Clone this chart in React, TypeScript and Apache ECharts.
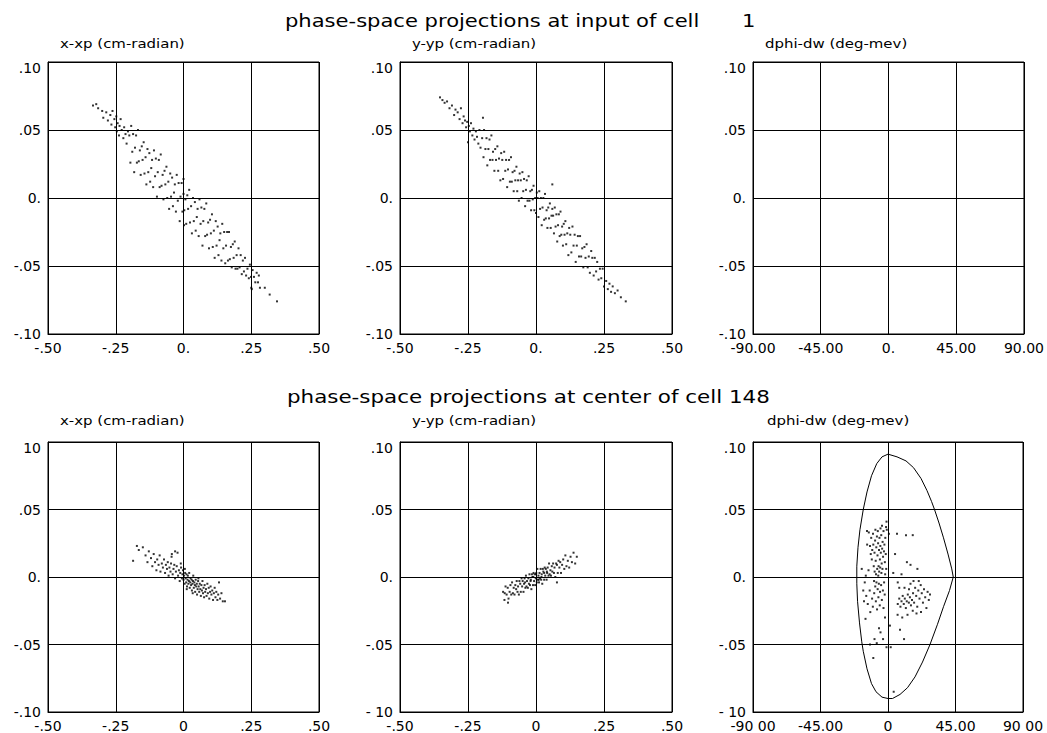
import React, { useEffect, useRef } from 'react';
import * as echarts from 'echarts';

const FONT = '"DejaVu Sans", sans-serif';

// ---- titles ----
const titleTop = 'phase-space projections at input of cell';
const titleTopCell = '1';
const titleBottom = 'phase-space projections at center of cell 148';
const subTitles = ['x-xp (cm-radian)', 'y-yp (cm-radian)', 'dphi-dw (deg-mev)'];

// ---- tick labels ----
const xTicksTop = ['-.50', '-.25', '0.', '.25', '.50'];
const xTicksBottom = ['-.50', '-.25', '0', '.25', '.50'];
const phiTicksTop = ['-90.00', '-45.00', '0.', '45.00', '90.00'];
const phiTicksBottom = ['-90 00', '-45.00', '0', '45.00', '90 00'];
const yTicksA = ['-.10', '-.05', '0.', '.05', '.10'];
const yTicksB = ['-.10', '-.05', '0.', '.05', '10'];
const yTicksC = ['- 10', '-.05', '0.', '.05', '.10'];

// ---- data: input of cell 1 ----
const xxpInput = [
  [-0.334, 0.068], [-0.322, 0.069], [-0.315, 0.066], [-0.30, 0.064], [-0.296, 0.059], [-0.285, 0.063], [-0.279, 0.057], [-0.270, 0.061], [-0.266, 0.054], [-0.262, 0.064], [-0.255, 0.058], [-0.252, 0.052], [-0.248, 0.060], [-0.246, 0.049], [-0.243, 0.055], [-0.238, 0.046], [-0.236, 0.053], [-0.232, 0.058], [-0.228, 0.050], [-0.222, 0.044], [-0.219, 0.052], [-0.214, 0.047], [-0.210, 0.040], [-0.205, 0.049],
  [-0.200, 0.046], [-0.196, 0.026], [-0.193, 0.053], [-0.189, 0.034], [-0.186, 0.047], [-0.182, 0.019], [-0.179, 0.037], [-0.175, 0.046], [-0.172, 0.026], [-0.168, 0.050], [-0.165, 0.027], [-0.161, 0.035], [-0.158, 0.017], [-0.154, 0.038], [-0.151, 0.028], [-0.147, 0.041], [-0.144, 0.018], [-0.140, 0.030], [-0.137, 0.010], [-0.133, 0.036], [-0.130, 0.019], [-0.126, 0.033], [-0.123, 0.012], [-0.119, 0.022], [-0.116, 0.028], [-0.112, 0.008], [-0.109, 0.035], [-0.105, 0.016], [-0.102, 0.029], [-0.098, 0.001],
  [-0.095, 0.019], [-0.091, 0.028], [-0.088, 0.008], [-0.084, 0.032], [-0.081, 0.009], [-0.077, 0.017], [-0.074, -0.001], [-0.070, 0.020], [-0.067, 0.010], [-0.063, 0.023], [-0.060, 0.000], [-0.056, 0.012], [-0.053, -0.008], [-0.049, 0.018], [-0.046, 0.001], [-0.042, 0.015], [-0.039, -0.006], [-0.035, 0.004], [-0.032, 0.010], [-0.028, -0.010], [-0.025, 0.017], [-0.021, -0.002], [-0.018, 0.011], [-0.014, -0.017], [-0.011, 0.001], [-0.007, 0.011], [-0.004, -0.010], [0.000, 0.014], [0.000, 0.003], [0.002, -0.020],
  [0.003, -0.009], [0.007, -0.001], [0.010, -0.019], [0.014, 0.002], [0.017, -0.008], [0.021, 0.006], [0.024, -0.018], [0.028, -0.006], [0.031, -0.026], [0.035, 0.000], [0.038, -0.017], [0.042, -0.003], [0.045, -0.024], [0.049, -0.014], [0.052, -0.008], [0.056, -0.028], [0.059, -0.001], [0.063, -0.019], [0.066, -0.007], [0.070, -0.035], [0.073, -0.017], [0.077, -0.008], [0.080, -0.028], [0.084, -0.004], [0.087, -0.027], [0.091, -0.018], [0.094, -0.037], [0.098, -0.016], [0.101, -0.026], [0.105, -0.012], [0.108, -0.036], [0.112, -0.024], [0.115, -0.044], [0.119, -0.017],
  [0.122, -0.035], [0.126, -0.021], [0.129, -0.042], [0.133, -0.031], [0.136, -0.026], [0.140, -0.046], [0.143, -0.019], [0.147, -0.037], [0.150, -0.025], [0.154, -0.048], [0.157, -0.035], [0.161, -0.025], [0.164, -0.046], [0.168, -0.025], [0.171, -0.045], [0.175, -0.036], [0.178, -0.051], [0.182, -0.034], [0.185, -0.044], [0.189, -0.032], [0.192, -0.052], [0.196, -0.042], [0.199, -0.052], [0.203, -0.037], [0.207, -0.051], [0.211, -0.042], [0.215, -0.056], [0.219, -0.046], [0.223, -0.054], [0.227, -0.044], [0.231, -0.057], [0.236, -0.052], [0.241, -0.059], [0.245, -0.049], [0.249, -0.058],
  [0.250, -0.066], [0.252, -0.067], [0.255, -0.053], [0.260, -0.058], [0.265, -0.062], [0.270, -0.055], [0.275, -0.062], [0.278, -0.057], [0.282, -0.066], [0.300, -0.066], [0.318, -0.071], [0.345, -0.076],
];

const yypInput = [
  [-0.353, 0.074], [-0.344, 0.072], [-0.336, 0.070], [-0.327, 0.071], [-0.318, 0.066], [-0.309, 0.068], [-0.301, 0.061], [-0.296, 0.065], [-0.288, 0.063], [-0.281, 0.058], [-0.276, 0.066], [-0.270, 0.055], [-0.266, 0.060], [-0.261, 0.057], [-0.257, 0.052], [-0.253, 0.056], [-0.250, 0.041], [-0.247, 0.053], [-0.243, 0.049], [-0.239, 0.055], [-0.234, 0.046], [-0.230, 0.051], [-0.226, 0.043], [-0.221, 0.049], [-0.217, 0.045], [-0.212, 0.040], [-0.208, 0.050], [-0.204, 0.037], [-0.195, 0.059],
  [-0.198, 0.044], [-0.193, 0.030], [-0.191, 0.050], [-0.186, 0.036], [-0.182, 0.044], [-0.179, 0.024], [-0.175, 0.036], [-0.171, 0.043], [-0.169, 0.028], [-0.164, 0.046], [-0.160, 0.028], [-0.158, 0.034], [-0.153, 0.020], [-0.150, 0.036], [-0.147, 0.028], [-0.142, 0.038], [-0.139, 0.020], [-0.136, 0.029], [-0.131, 0.013], [-0.128, 0.033], [-0.124, 0.028], [-0.121, 0.014], [-0.117, 0.034], [-0.113, 0.020], [-0.110, 0.028], [-0.106, 0.008], [-0.103, 0.021], [-0.099, 0.028], [-0.096, 0.012], [-0.092, 0.030],
  [-0.089, 0.012], [-0.086, 0.019], [-0.082, 0.005], [-0.079, 0.020], [-0.076, 0.013], [-0.072, 0.023], [-0.069, 0.005], [-0.066, 0.013], [-0.063, -0.002], [-0.060, 0.018], [-0.056, 0.013], [-0.053, 0.000], [-0.050, 0.019], [-0.047, 0.005], [-0.044, 0.014], [-0.040, -0.006], [-0.037, 0.006], [-0.034, 0.013], [-0.031, -0.002], [-0.027, 0.016], [-0.024, -0.002], [-0.021, 0.005], [-0.018, -0.009], [-0.015, 0.006], [-0.012, -0.001], [-0.009, 0.009], [-0.006, -0.009], [-0.003, 0.000], [0.000, -0.011], [0.003, 0.004],
  [0.006, 0.000], [0.009, -0.014], [0.012, 0.005], [0.015, -0.008], [0.018, 0.000], [0.021, -0.020], [0.024, -0.007], [0.027, 0.000], [0.030, -0.016], [0.033, 0.003], [0.036, -0.015], [0.039, -0.009], [0.042, -0.022], [0.045, -0.007], [0.048, -0.015], [0.051, -0.004], [0.054, -0.022], [0.057, -0.013], [0.060, 0.010], [0.060, -0.008], [0.063, -0.013], [0.066, -0.026], [0.069, -0.007], [0.072, -0.021], [0.075, -0.012], [0.078, -0.032], [0.081, -0.020], [0.084, -0.012], [0.087, -0.028], [0.090, -0.010], [0.093, -0.027], [0.096, -0.021], [0.099, -0.035], [0.102, -0.019], [0.105, -0.027], [0.108, -0.017], [0.111, -0.034], [0.115, -0.026], [0.119, -0.042],
  [0.122, -0.022], [0.126, -0.027], [0.130, -0.040], [0.134, -0.021], [0.138, -0.035], [0.142, -0.027], [0.146, -0.047], [0.150, -0.035], [0.154, -0.028], [0.158, -0.043], [0.162, -0.028], [0.166, -0.043], [0.170, -0.037], [0.174, -0.051], [0.178, -0.036], [0.182, -0.044], [0.186, -0.034], [0.190, -0.051], [0.194, -0.043], [0.198, -0.055], [0.203, -0.039], [0.207, -0.044], [0.212, -0.057], [0.216, -0.044], [0.221, -0.054], [0.225, -0.047], [0.230, -0.060], [0.235, -0.052], [0.240, -0.059], [0.245, -0.052], [0.250, -0.065],
  [0.258, -0.061], [0.264, -0.067], [0.270, -0.063], [0.276, -0.069], [0.282, -0.065], [0.290, -0.070], [0.300, -0.068], [0.312, -0.073], [0.330, -0.076],
];

const phiInput: number[][] = [];

// ---- data: center of cell 148 ----
const xxpCenter = [
  [-0.186, 0.012], [-0.172, 0.023], [-0.165, 0.020], [-0.150, 0.022], [-0.140, 0.016], [-0.133, 0.011], [-0.128, 0.019], [-0.120, 0.014], [-0.115, 0.008], [-0.110, 0.017], [-0.105, 0.011], [-0.100, 0.005], [-0.097, 0.013], [-0.092, 0.009], [-0.088, 0.016], [-0.085, 0.004], [-0.080, 0.010], [-0.076, 0.007], [-0.072, 0.013], [-0.068, 0.003], [-0.065, 0.009], [-0.061, 0.006], [-0.058, 0.011], [-0.055, 0.001], [-0.052, 0.007], [-0.048, 0.004], [-0.046, 0.010], [-0.043, 0.017], [-0.040, 0.002], [-0.037, 0.006], [-0.034, 0.009], [-0.031, -0.001], [-0.028, 0.004], [-0.025, 0.008], [-0.022, 0.018], [-0.020, 0.001], [-0.017, 0.005], [-0.014, -0.003], [-0.012, 0.003], [-0.009, 0.007], [-0.006, -0.001], [-0.004, 0.002], [-0.002, 0.005],
  [0.000, -0.002], [0.002, 0.001], [0.004, -0.005], [0.006, 0.003], [0.008, -0.001], [0.010, -0.004], [0.011, 0.002], [0.013, -0.007], [0.015, -0.002], [0.016, 0.001], [0.018, -0.005], [0.020, -0.003], [0.021, 0.003], [0.023, -0.008], [0.025, -0.004], [0.026, -0.001], [0.028, -0.006], [0.030, -0.002], [0.031, -0.010], [0.033, -0.005], [0.035, -0.003], [0.036, 0.001], [0.038, -0.008], [0.040, -0.004], [0.042, -0.006], [0.043, -0.011], [0.045, -0.002], [0.047, -0.007], [0.049, -0.005], [0.050, -0.013], [0.052, -0.009], [0.054, -0.003], [0.056, -0.007], [0.058, -0.011], [0.060, -0.005], [0.062, -0.009], [0.064, -0.014], [0.066, -0.006], [0.068, -0.010], [0.070, -0.003], [0.072, -0.012], [0.074, -0.008], [0.076, -0.015], [0.078, -0.006], [0.080, -0.011], [0.083, -0.009], [0.085, -0.014], [0.088, -0.005], [0.090, -0.012], [0.093, -0.008], [0.095, -0.016], [0.098, -0.011], [0.100, -0.007], [0.103, -0.013], [0.106, -0.010], [0.109, -0.017], [0.112, -0.012], [0.115, -0.008], [0.118, -0.015], [0.121, -0.011], [0.125, -0.017], [0.128, -0.013], [0.131, -0.004], [0.135, -0.016], [0.140, -0.012], [0.145, -0.018], [0.153, -0.018],
  [-0.031, 0.019], [-0.044, 0.015], [-0.010, 0.010], [0.005, 0.006], [0.012, -0.009], [0.034, -0.012], [0.055, -0.001],
];

const yypCenter = [
  [-0.121, -0.011], [-0.116, -0.017], [-0.112, -0.007], [-0.108, -0.013], [-0.104, -0.008], [-0.101, -0.016], [-0.097, -0.011], [-0.094, -0.006], [-0.091, -0.013], [-0.088, -0.004], [-0.085, -0.012], [-0.082, -0.008], [-0.079, -0.013], [-0.076, -0.006], [-0.073, -0.009], [-0.071, -0.003], [-0.068, -0.011], [-0.066, -0.007], [-0.063, -0.013], [-0.061, -0.003], [-0.058, -0.005], [-0.056, -0.011], [-0.053, -0.001], [-0.051, -0.007], [-0.049, -0.003], [-0.046, -0.011], [-0.044, -0.005], [-0.042, -0.001], [-0.039, -0.008], [-0.037, 0.001], [-0.035, -0.007], [-0.033, -0.003], [-0.030, -0.008], [-0.028, -0.001], [-0.026, -0.005], [-0.024, 0.002], [-0.022, -0.006], [-0.019, -0.002], [-0.017, -0.009], [-0.015, 0.002], [-0.013, 0.000], [-0.011, -0.006], [-0.009, 0.003], [-0.007, -0.003], [-0.005, 0.002], [-0.003, -0.006], [-0.001, -0.001],
  [0.001, 0.003], [0.003, -0.004], [0.005, 0.006], [0.007, -0.002], [0.009, 0.001], [0.011, -0.004], [0.013, 0.003], [0.015, -0.001], [0.017, 0.006], [0.019, -0.002], [0.021, 0.002], [0.023, -0.005], [0.025, 0.006], [0.027, 0.004], [0.030, -0.002], [0.032, 0.007], [0.034, 0.001], [0.036, 0.006], [0.039, -0.002], [0.041, 0.003], [0.043, 0.007], [0.046, 0.001], [0.048, 0.010], [0.050, 0.002], [0.053, 0.005], [0.055, 0.001], [0.058, 0.008], [0.060, 0.004], [0.063, 0.010], [0.066, 0.003], [0.068, 0.007], [0.071, 0.000], [0.074, 0.010], [0.077, 0.009], [0.080, 0.003], [0.083, 0.012], [0.086, 0.007], [0.089, 0.011], [0.092, 0.003], [0.096, 0.009], [0.100, 0.013], [0.104, 0.006], [0.108, 0.016], [0.112, 0.008], [0.117, 0.012], [0.122, 0.007], [0.127, 0.015], [0.132, 0.011], [0.138, 0.018], [0.144, 0.010], [0.150, 0.015],
  [0.077, -0.004], [-0.103, -0.019], [-0.115, -0.012], [-0.020, -0.003], [0.000, 0.002], [0.020, 0.000], [0.040, 0.004], [-0.040, -0.004], [0.010, -0.002], [0.030, 0.003], [-0.010, 0.000],
];

const phiCenter = [
  [-10.5, 0.020], [-9.8, 0.024], [-9.0, 0.018], [-8.6, 0.027], [-8.2, 0.012], [-7.8, 0.022], [-7.4, 0.030], [-7.0, 0.016], [-6.6, 0.025], [-6.3, 0.008], [-6.0, 0.020], [-5.7, 0.029], [-5.4, 0.013], [-5.1, 0.023], [-4.8, 0.018], [-4.5, 0.031], [-4.2, 0.010], [-3.9, 0.021], [-3.6, 0.026], [-3.3, 0.015], [-3.0, 0.034], [-2.7, 0.019], [-2.4, 0.024], [-2.1, 0.011], [-1.8, 0.029], [-1.5, 0.017],
  [-9.5, 0.008], [-8.9, 0.004], [-8.0, 0.002], [-7.2, 0.006], [-6.5, 0.001], [-5.9, 0.004], [-5.2, 0.007], [-4.4, 0.003], [-3.7, 0.006], [-10.8, 0.013], [-11.5, 0.017], [-12.0, 0.023], [-11.2, 0.029], [-10.0, 0.032], [-8.4, 0.035], [-6.8, 0.034], [-5.0, 0.036], [-4.0, 0.038], [-1.0, 0.041], [-1.3, 0.037], [-0.8, 0.035],
  [-9.3, -0.003], [-8.5, -0.007], [-7.7, -0.004], [-6.9, -0.009], [-6.1, -0.005], [-5.3, -0.011], [-4.6, -0.006], [-3.4, -0.010], [-2.6, -0.004], [-1.9, 0.002], [-1.2, 0.006],
  [-15.5, -0.004], [-14.5, -0.014], [-13.5, -0.020], [-12.2, -0.010], [-11.8, -0.026], [-10.6, -0.016], [-10.1, -0.022], [-9.2, -0.012], [-8.1, -0.018], [-7.3, -0.024], [-6.4, -0.015], [-5.5, -0.021], [-4.1, -0.017], [-3.0, -0.023], [-2.2, -0.013], [-14.8, 0.001], [-13.0, 0.005], [-16.0, -0.018], [-12.8, 0.033], [-13.9, 0.024],
  [-15.0, -0.031], [-12.0, -0.050], [-9.8, -0.060], [-14.0, 0.034], [-17.5, 0.006], [-16.5, -0.010], [-9.0, -0.046], [-7.5, -0.049], [-5.0, -0.041], [-3.3, -0.046], [-6.0, -0.038], [-2.0, -0.030], [-1.0, -0.052], [0.6, 0.032],
  [1.8, -0.052], [1.3, -0.036], [3.8, -0.085], [6.4, -0.028], [8.0, -0.039], [10.7, -0.046],
  [6.5, -0.020], [7.5, -0.016], [8.3, -0.022], [9.0, -0.018], [9.8, -0.014], [10.5, -0.020], [11.2, -0.016], [11.9, -0.023], [12.5, -0.018], [13.2, -0.013], [13.9, -0.019], [14.6, -0.015], [15.3, -0.021], [16.0, -0.017], [16.7, -0.012], [17.4, -0.019], [18.1, -0.008], [18.8, -0.014], [19.5, -0.022], [20.2, -0.010], [21.0, -0.016], [21.8, -0.006], [22.5, -0.012], [23.3, -0.019], [24.0, -0.009], [24.8, -0.015], [25.6, -0.023], [26.4, -0.011], [27.2, -0.017], [28.0, -0.013],
  [15.0, -0.005], [17.0, -0.003], [19.0, -0.027], [13.0, -0.028], [11.0, -0.008], [9.5, -0.030], [22.0, -0.026], [20.5, -0.003], [16.5, -0.025], [14.0, -0.009],
  [6.0, 0.032], [12.0, 0.031], [16.5, 0.031], [12.6, 0.011], [19.6, 0.006], [15.0, 0.009], [4.7, 0.017], [9.0, 0.002], [6.5, -0.004], [3.5, 0.003], [7.5, -0.008],
];

const separatrix = [
  [0, 0.091], [6, 0.089], [12, 0.086], [17, 0.081], [22, 0.073], [26, 0.064], [29, 0.056], [31, 0.050], [34, 0.040], [37, 0.029], [40, 0.017], [42.5, 0.006], [43.5, 0.0],
  [41, -0.010], [37, -0.022], [33, -0.035], [28, -0.050], [23, -0.063], [18, -0.074], [13, -0.082], [8, -0.087], [3, -0.090], [0, -0.090],
  [-4, -0.089], [-8, -0.085], [-11, -0.079], [-14, -0.068], [-16.5, -0.055], [-17.5, -0.048], [-19, -0.034], [-20.3, -0.018], [-20.8, -0.005], [-20.8, 0.008], [-20, 0.022], [-18.7, 0.035], [-16.5, 0.050], [-14, 0.063], [-11, 0.075], [-7.5, 0.084], [-4, 0.089], [0, 0.091],
];

const panelBoxes = [
  { left: 48, top: 62, width: 271, height: 272 },
  { left: 400, top: 62, width: 272, height: 272 },
  { left: 753, top: 62, width: 271, height: 272 },
  { left: 48, top: 442, width: 271, height: 271 },
  { left: 400, top: 442, width: 272, height: 271 },
  { left: 753, top: 442, width: 270, height: 271 },
];

const panels = [
  { data: xxpInput, xmin: -0.5, xmax: 0.5, xint: 0.25, xl: xTicksTop, yl: yTicksA },
  { data: yypInput, xmin: -0.5, xmax: 0.5, xint: 0.25, xl: xTicksTop, yl: yTicksA },
  { data: phiInput, xmin: -90, xmax: 90, xint: 45, xl: phiTicksTop, yl: yTicksA },
  { data: xxpCenter, xmin: -0.5, xmax: 0.5, xint: 0.25, xl: xTicksBottom, yl: yTicksB },
  { data: yypCenter, xmin: -0.5, xmax: 0.5, xint: 0.25, xl: xTicksBottom, yl: yTicksC },
  { data: phiCenter, xmin: -90, xmax: 90, xint: 45, xl: phiTicksBottom, yl: yTicksC },
];

const black = '#000';
const labelStyle = { fontFamily: FONT, fontSize: 14, color: black };

export default function App() {
  const ref = useRef<HTMLDivElement>(null);
  useEffect(() => {
    const chart = echarts.init(ref.current as HTMLDivElement, null, { renderer: 'svg' });
    const grid = panelBoxes.map((b) => ({
      ...b,
      show: true,
      borderColor: black,
      borderWidth: 1,
      backgroundColor: 'transparent',
    }));
    const xAxis = panels.map((p, i) => ({
      type: 'value',
      gridIndex: i,
      min: p.xmin,
      max: p.xmax,
      interval: p.xint,
      axisLine: { show: true, onZero: false, lineStyle: { color: black, width: 1 } },
      axisTick: { show: false },
      splitLine: { show: true, lineStyle: { color: black, width: 1 } },
      axisLabel: {
        ...labelStyle,
        margin: 7,
        showMinLabel: true,
        showMaxLabel: true,
        formatter: (_v: number, idx: number) => p.xl[idx] ?? '',
      },
    }));
    const yAxis = panels.map((p, i) => ({
      type: 'value',
      gridIndex: i,
      min: -0.1,
      max: 0.1,
      interval: 0.05,
      axisLine: { show: true, onZero: false, lineStyle: { color: black, width: 1 } },
      axisTick: { show: false },
      splitLine: { show: true, lineStyle: { color: black, width: 1 } },
      axisLabel: {
        ...labelStyle,
        margin: 7,
        showMinLabel: true,
        showMaxLabel: true,
        formatter: (_v: number, idx: number) => {
          const t = p.yl[idx] ?? '';
          if (idx === 4) return `{t|${t}}`;
          return t;
        },
        rich: {
          t: { ...labelStyle, padding: [11, 0, 0, 0] },
        },
      },
    }));
    const series: any[] = panels.map((p, i) => ({
      type: 'scatter',
      xAxisIndex: i,
      yAxisIndex: i,
      data: p.data,
      symbol: 'rect',
      symbolSize: 2,
      itemStyle: { color: black },
      silent: true,
    }));
    series.push({
      type: 'line',
      xAxisIndex: 5,
      yAxisIndex: 5,
      data: separatrix,
      showSymbol: false,
      smooth: false,
      lineStyle: { color: black, width: 1 },
      silent: true,
    });
    const txt = (text: string, x: number, y: number, size: number, sx: number) => ({
      type: 'text',
      x,
      y,
      scaleX: sx,
      silent: true,
      style: { text, fontFamily: FONT, fontSize: size, fill: black, align: 'left', verticalAlign: 'middle' },
    });
    const subX = [60, 412, 765];
    const graphic = [
      txt(titleTop, 285, 21, 17, 1.24),
      txt(titleTopCell, 742, 21, 17, 1.24),
      txt(titleBottom, 287, 397, 17, 1.26),
      ...subTitles.map((s, i) => txt(s, subX[i], 43, 13, 1.15)),
      ...subTitles.map((s, i) => txt(s, subX[i] + (i === 2 ? 2 : 0), 420, 13, 1.15)),
    ];
    chart.setOption({
      animation: false,
      backgroundColor: '#fff',
      grid,
      xAxis,
      yAxis,
      series,
      graphic,
    });
    return () => chart.dispose();
  }, []);
  return (
    <div
      ref={ref}
      style={{ position: 'fixed', left: 0, top: 0, width: 1047, height: 733, background: '#fff' }}
    />
  );
}
